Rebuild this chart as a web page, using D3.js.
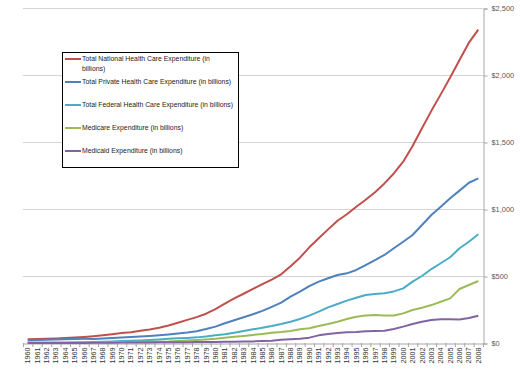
<!DOCTYPE html>
<html>
<head>
<meta charset="utf-8">
<script src="https://cdn.jsdelivr.net/npm/d3@7"></script>
<style>
  body { margin: 0; background: #fff; }
  svg { display: block; font-family: "Liberation Sans", Arial, sans-serif; }
</style>
</head>
<body>
<svg class="graph"></svg>
<script>
let years = d3.range(1960, 2009).map(String)

let national = [27.4, 29.1, 31.6, 34.2, 37.9, 41.6, 45.6, 51.0, 57.7, 65.4, 74.6, 81.0, 90.9, 101.2, 114.4, 131.1, 150.6, 172.3, 192.9, 218.7,
    253.3, 294.4, 333.0, 367.4, 403.7, 439.7, 472.6, 512.8, 573.3, 636.9, 714.0, 781.6, 848.0, 912.6, 960.6, 1016.5, 1068.5, 1125.4, 1190.9,
    1265.0, 1353.3, 1469.6, 1602.4, 1732.4, 1855.4, 1980.6, 2112.5, 2241.2, 2338.7]

let privateExp = [20.5, 21.9, 23.6, 25.5, 28.0, 30.5, 31.0, 30.5, 33.0, 37.0, 41.0, 44.0, 48.0, 52.0, 57.0, 63.0, 70.0, 78.0, 88.0, 104.0,
    122.0, 147.0, 170.0, 192.0, 215.0, 240.0, 270.0, 301.0, 346.0, 383.0, 425.0, 458.0, 483.0, 507.0, 520.0, 545.0, 582.0, 619.0, 657.0,
    707.0, 756.0, 806.0, 881.0, 955.0, 1017.0, 1080.0, 1137.0, 1196.0, 1229.0]

let federal = [2.9, 3.1, 3.4, 3.7, 4.0, 4.8, 6.0, 8.0, 10.0, 12.0, 14.0, 16.0, 19.0, 23.0, 27.0, 31.0, 35.0, 38.0, 42.0, 49.0,
    57.0, 66.0, 77.0, 89.0, 102.0, 114.0, 127.0, 142.0, 159.0, 179.0, 204.0, 234.0, 266.0, 291.0, 316.0, 338.0, 358.0, 366.0, 371.0,
    385.0, 408.0, 458.0, 500.0, 552.0, 595.0, 640.0, 707.0, 756.0, 811.0]

let medicare = [0, 0, 0, 0, 0, 0, 1.6, 4.5, 5.5, 6.5, 7.5, 8.0, 8.5, 9.0, 9.5, 11.0, 15.0, 18.0, 22.0, 27.0,
    32.0, 39.0, 47.0, 53.0, 60.0, 68.0, 77.0, 82.0, 90.0, 102.0, 110.0, 127.0, 142.0, 159.0, 179.0, 196.0, 206.0, 209.0, 206.0,
    205.0, 221.0, 246.0, 263.0, 283.0, 308.0, 333.0, 403.0, 433.0, 463.0]

let medicaid = [0, 0, 0, 0, 0, 0, 0.6, 1.3, 1.8, 2.3, 2.8, 3.3, 4.0, 4.5, 5.0, 5.5, 6.0, 6.5, 7.0, 7.5,
    8.0, 9.0, 10.0, 11.0, 12.0, 14.0, 17.0, 24.0, 28.0, 32.0, 40.0, 57.0, 67.0, 75.0, 80.0, 82.0, 87.0, 90.0, 92.0,
    105.0, 122.0, 142.0, 159.0, 172.0, 177.0, 177.0, 176.0, 187.0, 204.0]

let seriesNames = [
    "Total National Health Care Expenditure (in billions)",
    "Total Private Health Care Expenditure (in billions)",
    "Total Federal Health Care Expenditure (in billions)",
    "Medicare Expenditure (in billions)",
    "Medicaid Expenditure (in billions)"
]
let seriesValues = [national, privateExp, federal, medicare, medicaid]
let colors = ["#c0504d", "#4f81bd", "#4bacc6", "#9bbb59", "#8064a2"]
let yTicks = [0, 500, 1000, 1500, 2000, 2500]

let width = 520, height = 377
let plotLeft = 23, plotRight = 483, plotTop = 8, plotBottom = 343

let svg = d3.select(".graph")
    .attr("width", width)
    .attr("height", height)

let x = d3.scaleBand()
    .domain(years)
    .range([plotLeft, plotRight])

let y = d3.scaleLinear()
    .domain([0, 2500])
    .range([plotBottom, plotTop])

// gridlines
svg.append("g")
    .selectAll("line")
    .data(yTicks.slice(1))
    .enter().append("line")
    .attr("x1", plotLeft)
    .attr("x2", plotRight)
    .attr("y1", d => y(d) + 0.5)
    .attr("y2", d => y(d) + 0.5)
    .attr("stroke", "#d4d4d4")

// right value axis
let yAxis = svg.append("g")
    .attr("transform", "translate(" + (plotRight + 0.5) + ",0.5)")
    .call(d3.axisRight(y).tickValues(yTicks).tickSize(4).tickPadding(4)
        .tickFormat(d => "$" + d3.format(",")(d)))
yAxis.select(".domain").attr("stroke", "#a6a6a6")
yAxis.selectAll(".tick line").attr("stroke", "#a6a6a6")
yAxis.selectAll("text")
    .attr("fill", "#595959")
    .style("font-size", "7.4px")
    .style("font-family", "Liberation Sans, Arial, sans-serif")

// bottom category axis
let xAxis = svg.append("g")
    .attr("transform", "translate(0," + (plotBottom + 0.5) + ")")
    .call(d3.axisBottom(x).tickSize(0).tickPadding(4))
xAxis.select(".domain").attr("stroke", "#a6a6a6")
xAxis.selectAll("text")
    .attr("transform", "rotate(-90)")
    .attr("x", -4)
    .attr("y", 0)
    .attr("dy", "0.35em")
    .style("text-anchor", "end")
    .attr("fill", "#333")
    .style("font-size", "7.2px")
    .style("font-family", "Liberation Sans, Arial, sans-serif")

// tick marks between categories
svg.append("g")
    .selectAll("line")
    .data(years.concat(["end"]))
    .enter().append("line")
    .attr("x1", (d, i) => plotLeft + i * x.step() + 0.5)
    .attr("x2", (d, i) => plotLeft + i * x.step() + 0.5)
    .attr("y1", plotBottom)
    .attr("y2", plotBottom + 4)
    .attr("stroke", "#a6a6a6")

let line = d3.line()
    .x((d, i) => x(years[i]) + x.bandwidth() / 2)
    .y(d => y(d))

svg.append("g")
    .selectAll("path")
    .data(seriesValues)
    .enter().append("path")
    .attr("d", d => line(d))
    .attr("fill", "none")
    .attr("stroke", (d, i) => colors[i])
    .attr("stroke-width", 2)
    .attr("stroke-linejoin", "round")

// legend
let legend = svg.append("g")

legend.append("rect")
    .attr("x", 62.5)
    .attr("y", 52.5)
    .attr("width", 176)
    .attr("height", 115)
    .attr("fill", "#fff")
    .attr("stroke", "#000")
    .attr("stroke-width", 1)

let legendY = [59, 82, 105, 128, 151]

let item = legend.selectAll(".item")
    .data(seriesNames)
    .enter().append("g")
    .attr("class", "item")
    .attr("transform", (d, i) => "translate(65," + legendY[i] + ")")

item.append("line")
    .attr("x1", 0)
    .attr("x2", 16)
    .attr("stroke", (d, i) => colors[i])
    .attr("stroke-width", 2)

item.append("text")
    .attr("x", 17)
    .attr("dy", "0.35em")
    .style("font-size", "6.85px")
    .attr("fill", "#222")
    .each(function (d, i) {
        let t = d3.select(this)
        if (i == 0) {
            t.append("tspan").attr("x", 17).text("Total National Health Care Expenditure (in")
            t.append("tspan").attr("x", 17).attr("dy", "1.45em").text("billions)")
        } else {
            t.text(d)
        }
    })
</script>
</body>
</html>
